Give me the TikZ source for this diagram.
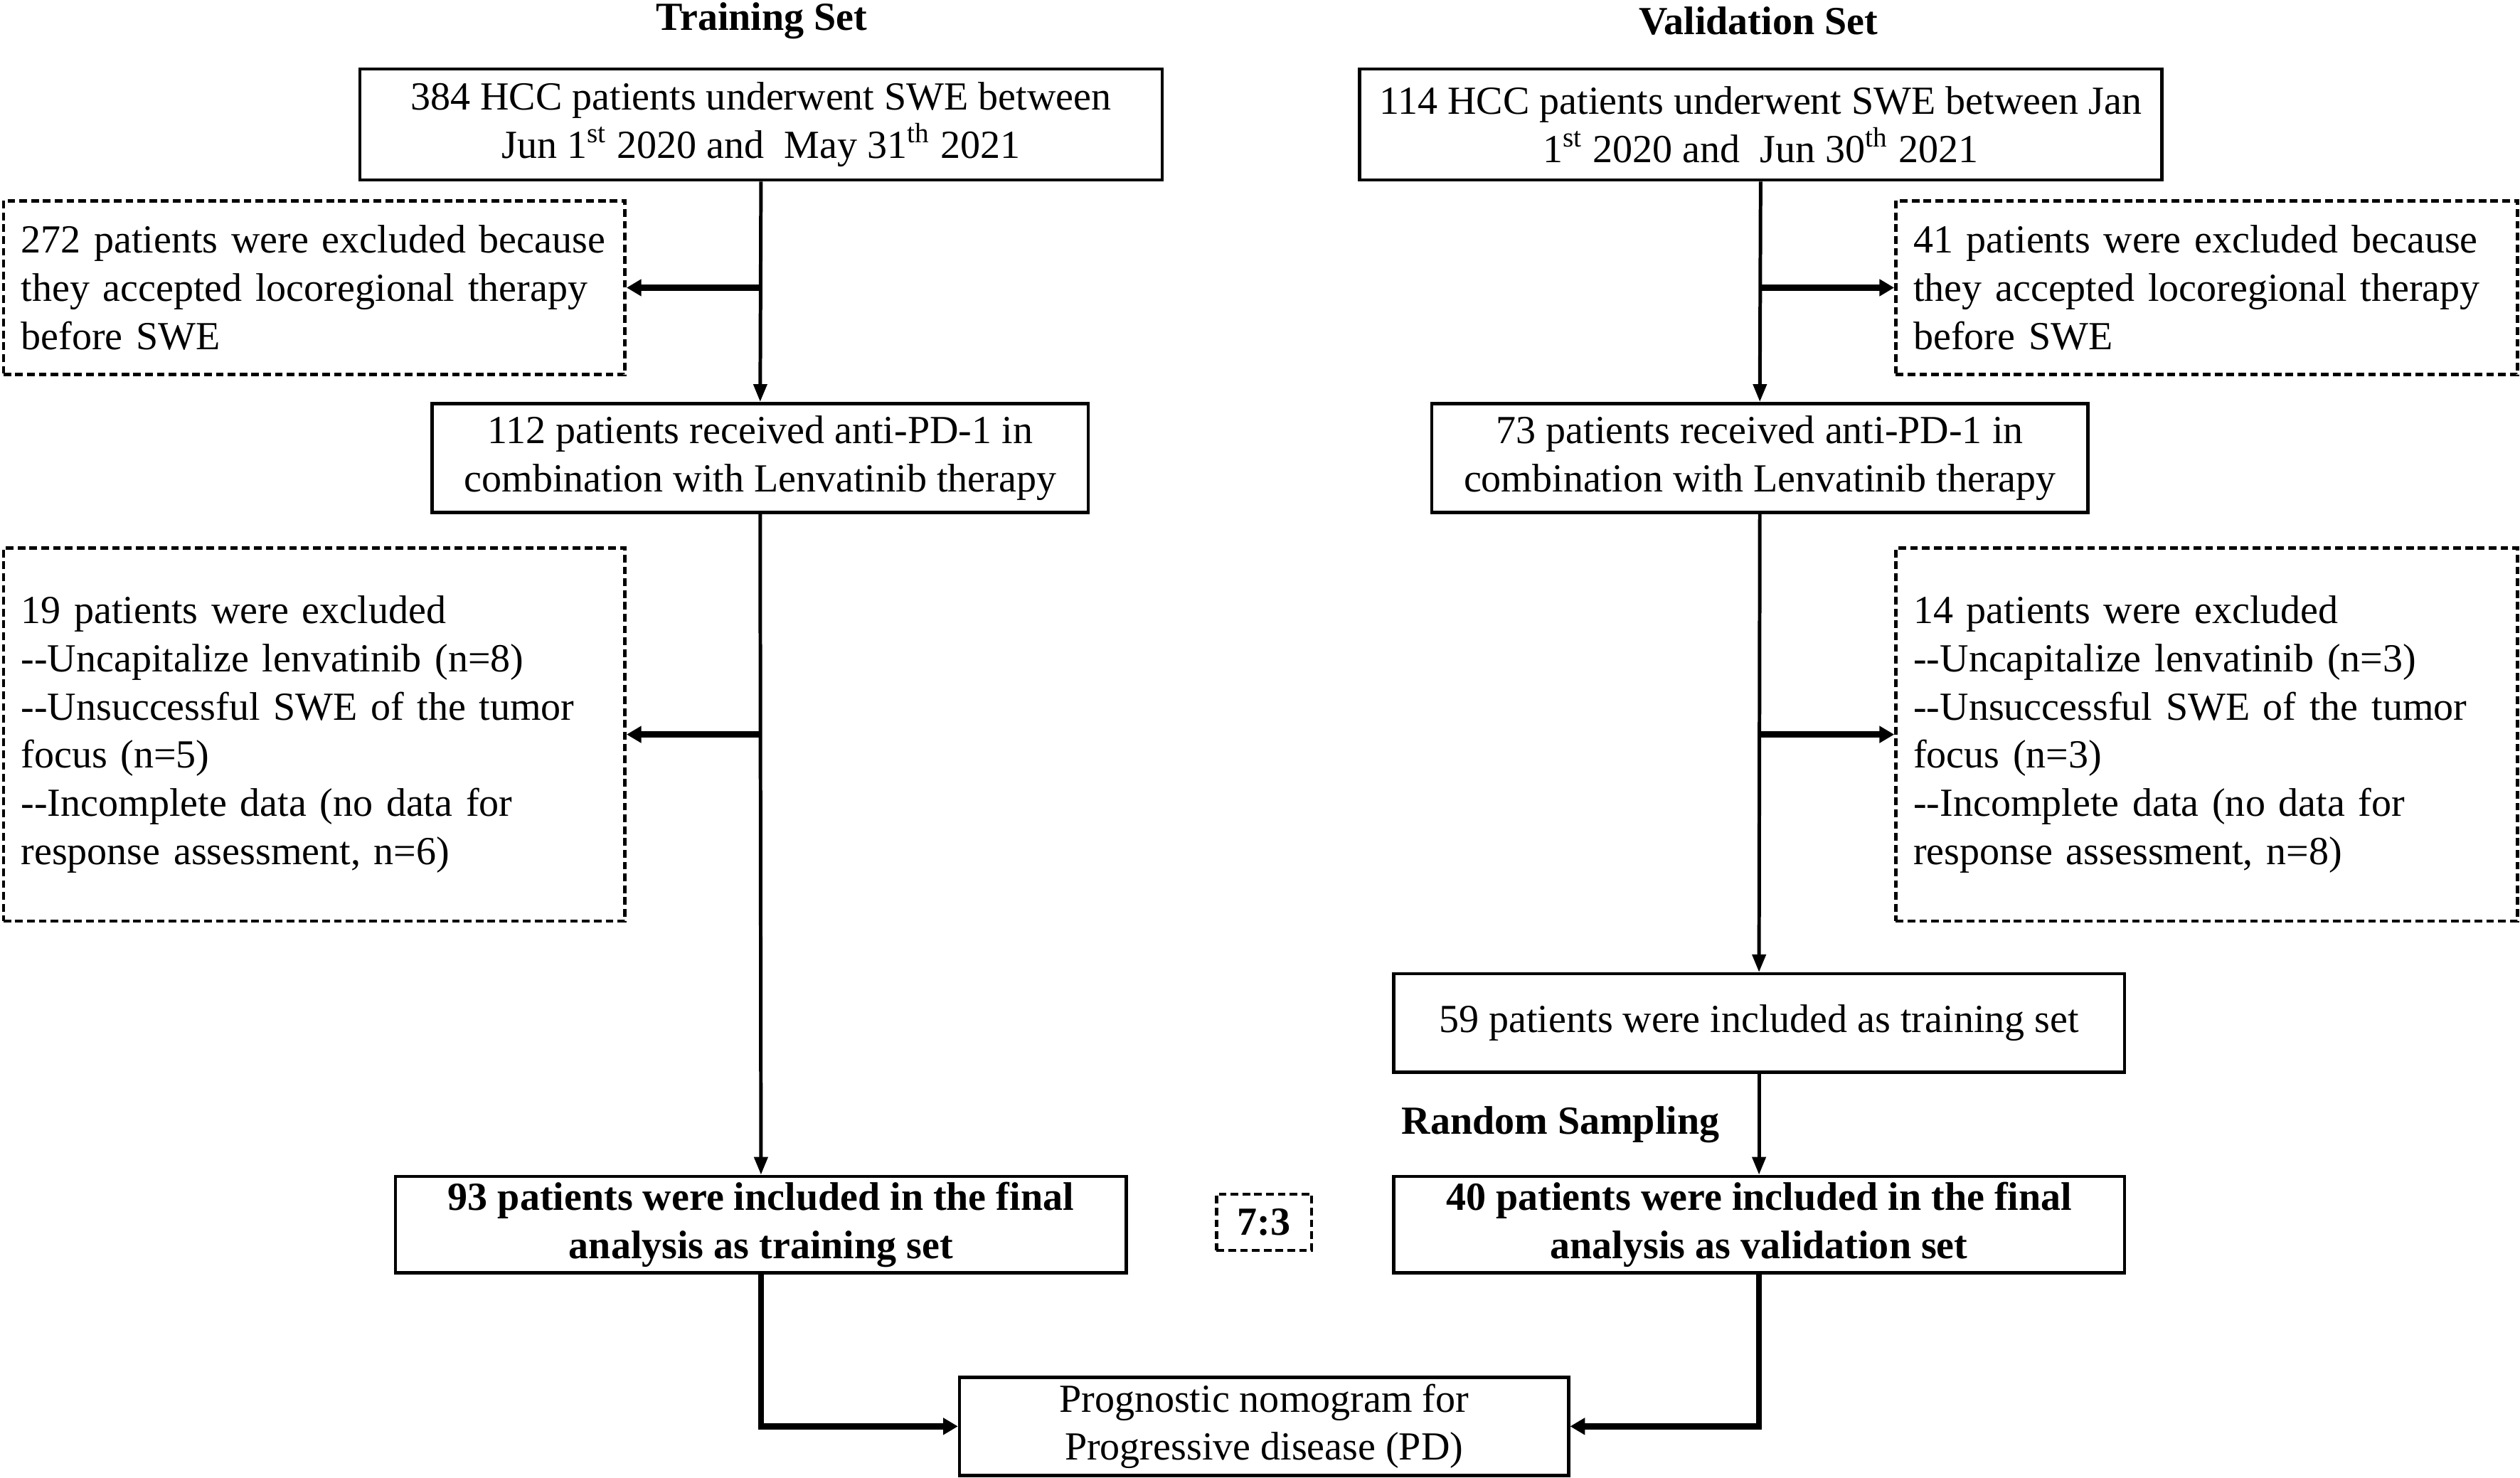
\documentclass[tikz,border=0pt]{standalone}
\usepackage{fontspec}
\setmainfont{Liberation Serif}
\usetikzlibrary{arrows.meta}

\tikzset{
  box/.style={draw, line width=1.1pt, align=center, inner sep=0pt,
    font=\fontsize{13.5}{16.3}\selectfont},
  boldbox/.style={box, font=\fontsize{13.5}{16.3}\selectfont\bfseries},
  exbox/.style={draw, dash pattern=on 2.6pt off 1.4pt, line width=1.1pt,
    align=left, text width=6.98cm, inner xsep=0.21cm, inner ysep=0pt,
    font=\fontsize{13.5}{16.3}\selectfont},
  trunk/.style={line width=1.2pt, -{Triangle[length=6pt,width=4.5pt]}},
  branch/.style={line width=2pt, -{Triangle[length=5pt,width=5.5pt]}},
  title/.style={font=\fontsize{13.5}{16.3}\selectfont\bfseries}
}

\begin{document}
\begin{tikzpicture}[x=0.019133cm, y=-0.019133cm]
    \useasboundingbox (0,0) rectangle (1568,919.6);

    % Column titles
    \node[title] (ttrain) at (474,13) {Training Set};
    \node[title] (tval) at (1094,13) {Validation Set};

    % First row
    \node[box, minimum width=9.55cm, minimum height=1.32cm] (a1) at (473.5,77.5)
        {384 HCC patients underwent SWE between\\
         Jun 1\textsuperscript{st} 2020 and\ \ May 31\textsuperscript{th} 2021};
    \node[box, minimum width=9.55cm, minimum height=1.32cm] (b1) at (1095.5,77.5)
        {114 HCC patients underwent SWE between Jan\\
         1\textsuperscript{st} 2020 and\ \ Jun 30\textsuperscript{th} 2021};

    % First exclusions
    \node[exbox, minimum height=2.07cm] (ea1) at (195.5,179)
        {272 patients were excluded because\\
         they accepted locoregional therapy\\
         before SWE};
    \node[exbox, minimum height=2.07cm] (eb1) at (1373,179)
        {41 patients were excluded because\\
         they accepted locoregional therapy\\
         before SWE};

    % Combination therapy
    \node[box, minimum width=7.81cm, minimum height=1.30cm] (a2) at (473,285)
        {112 patients received anti-PD-1 in\\
         combination with Lenvatinib therapy};
    \node[box, minimum width=7.81cm, minimum height=1.30cm] (b2) at (1095,285)
        {73 patients received anti-PD-1 in\\
         combination with Lenvatinib therapy};

    % Second exclusions
    \node[exbox, minimum height=4.44cm] (ea2) at (195.5,457)
        {19 patients were excluded\\
         -{}-Uncapitalize lenvatinib (n=8)\\
         -{}-Unsuccessful SWE of the tumor\\
         focus (n=5)\\
         -{}-Incomplete data (no data for\\
         response assessment, n=6)};
    \node[exbox, minimum height=4.44cm] (eb2) at (1373,457)
        {14 patients were excluded\\
         -{}-Uncapitalize lenvatinib (n=3)\\
         -{}-Unsuccessful SWE of the tumor\\
         focus (n=3)\\
         -{}-Incomplete data (no data for\\
         response assessment, n=8)};

    % Validation split
    \node[box, minimum width=8.70cm, minimum height=1.17cm] (b3) at (1094.5,636.5)
        {59 patients were included as training set};
    \node[title] (rs) at (971,700) {Random Sampling};

    % Final sets
    \node[boldbox, minimum width=8.70cm, minimum height=1.15cm] (a4) at (473.5,762)
        {93 patients were included in the final\\
         analysis as training set};
    \node[boldbox, minimum width=8.70cm, minimum height=1.15cm] (b4) at (1094.5,762)
        {40 patients were included in the final\\
         analysis as validation set};
    \node[boldbox, dash pattern=on 2.6pt off 1.4pt, minimum width=1.13cm,
        minimum height=0.67cm] (ratio) at (786.5,760.5) {7:3};

    % Nomogram
    \node[box, minimum width=7.25cm, minimum height=1.17cm] (nomo) at (786.5,887.5)
        {Prognostic nomogram for\\
         Progressive disease (PD)};

    % Connectors
    \draw[trunk] (a1.south) -- (a2.north);
    \draw[trunk] (a2.south) -- (a4.north);
    \draw[trunk] (b1.south) -- (b2.north);
    \draw[trunk] (b2.south) -- (b3.north);
    \draw[trunk] (b3.south) -- (b4.north);

    \draw[branch] (a1.south |- ea1.east) -- (ea1.east);
    \draw[branch] (a2.south |- ea2.east) -- (ea2.east);
    \draw[branch] (b1.south |- eb1.west) -- (eb1.west);
    \draw[branch] (b2.south |- eb2.west) -- (eb2.west);

    \draw[branch] (a4.south) |- (nomo.west);
    \draw[branch] (b4.south) |- (nomo.east);
\end{tikzpicture}
\end{document}
